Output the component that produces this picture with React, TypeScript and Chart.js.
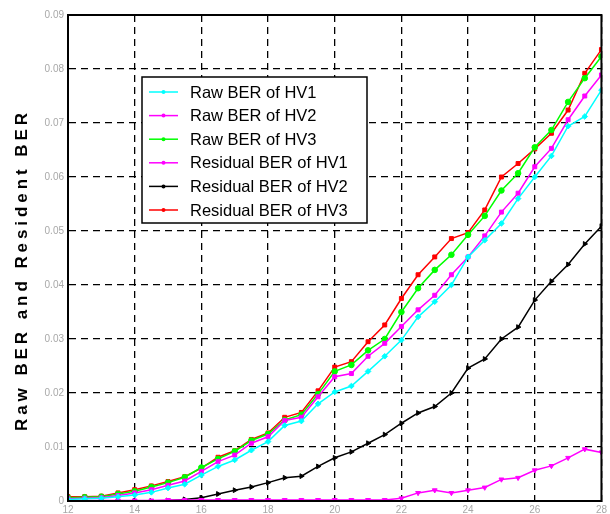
import React, { useEffect, useRef } from "react";
import { Chart, registerables } from "chart.js";

Chart.register(...registerables);

const snrValues = [12, 12.5, 13, 13.5, 14, 14.5, 15, 15.5, 16, 16.5, 17, 17.5, 18, 18.5, 19, 19.5, 20, 20.5, 21, 21.5, 22, 22.5, 23, 23.5, 24, 24.5, 25, 25.5, 26, 26.5, 27, 27.5, 28];

const rawHV1 = [0.0003, 0.0004, 0.0005, 0.0008, 0.0011, 0.0016, 0.0024, 0.0031, 0.0048, 0.0064, 0.0076, 0.0094, 0.011, 0.014, 0.0148, 0.018, 0.0202, 0.0213, 0.024, 0.0268, 0.0298, 0.0341, 0.0369, 0.04, 0.0452, 0.0483, 0.0514, 0.056, 0.06, 0.0639, 0.0694, 0.0712, 0.0761];
const rawHV2 = [0.0004, 0.0005, 0.0006, 0.001, 0.0015, 0.0021, 0.0029, 0.0037, 0.0055, 0.0073, 0.0085, 0.0107, 0.0119, 0.0149, 0.0155, 0.0193, 0.023, 0.0236, 0.0268, 0.0292, 0.0323, 0.0354, 0.0381, 0.0419, 0.0452, 0.0491, 0.0535, 0.057, 0.0619, 0.0653, 0.0706, 0.075, 0.0789];
const rawHV3 = [0.0006, 0.0007, 0.0008, 0.0013, 0.0018, 0.0026, 0.0034, 0.0044, 0.0062, 0.0078, 0.0092, 0.0112, 0.0124, 0.015, 0.016, 0.0198, 0.024, 0.0252, 0.0279, 0.03, 0.035, 0.0394, 0.0428, 0.0456, 0.0493, 0.0528, 0.0575, 0.0607, 0.0655, 0.0687, 0.0739, 0.0783, 0.0823];
const residualHV1 = [0.0001, 0.0001, 0.0001, 0.0001, 0.0001, 0.0001, 0.0002, 0.0002, 0.0002, 0.0002, 0.0002, 0.0002, 0.0002, 0.0002, 0.0002, 0.0002, 0.0002, 0.0002, 0.0002, 0.0002, 0.0005, 0.0015, 0.002, 0.0015, 0.002, 0.0025, 0.004, 0.0043, 0.0057, 0.0065, 0.008, 0.0096, 0.009];
const residualHV2 = [0, 0, 0, 0, 0, 0, 0.0001, 0.0003, 0.0006, 0.0013, 0.002, 0.0026, 0.0034, 0.0043, 0.0046, 0.0064, 0.008, 0.0091, 0.0107, 0.0123, 0.0144, 0.0163, 0.0175, 0.02, 0.0246, 0.0263, 0.03, 0.0322, 0.0372, 0.0407, 0.0438, 0.0476, 0.0509];
const residualHV3 = [0.0008, 0.0008, 0.0009, 0.0015, 0.0021, 0.0028, 0.0036, 0.0045, 0.0061, 0.0081, 0.0093, 0.0114, 0.0126, 0.0155, 0.0164, 0.0204, 0.0248, 0.0258, 0.0295, 0.0326, 0.0375, 0.0419, 0.0452, 0.0486, 0.0497, 0.0539, 0.06, 0.0625, 0.0652, 0.0681, 0.0724, 0.0792, 0.0836];

const seriesLabels = ["Raw BER of HV1", "Raw BER of HV2", "Raw BER of HV3", "Residual BER of HV1", "Residual BER of HV2", "Residual BER of HV3"];
const seriesValues = [rawHV1, rawHV2, rawHV3, residualHV1, residualHV2, residualHV3];
const seriesColors = ["#00ffff", "#ff00ff", "#00ff00", "#ff00ff", "#000000", "#ff0000"];
const seriesPoints = ["rectRot", "rect", "circle", "triangle", "triangle", "rect"];
const seriesRotation = [0, 0, 0, 180, 90, 0];

const xTicks = [12, 14, 16, 18, 20, 22, 24, 26, 28];
const yTickMax = 0.09;
const yAxisTitle = "Raw BER and Resident BER";

const framePlugin = {
  id: "frameAndLegend",
  afterDraw(chart: any) {
    const ctx = chart.ctx;
    const a = chart.chartArea;
    ctx.save();
    ctx.strokeStyle = "#000";
    ctx.lineWidth = 2;
    ctx.setLineDash([]);
    ctx.strokeRect(a.left, a.top, a.right - a.left, a.bottom - a.top);

    ctx.save();
    ctx.translate(22.5, 272);
    ctx.rotate(-Math.PI / 2);
    ctx.font = "bold 17px 'Liberation Sans', Arial, sans-serif";
    const w0 = ctx.measureText(yAxisTitle).width;
    const spacing = Math.max(0, (318 - w0) / (yAxisTitle.length - 1));
    (ctx as any).letterSpacing = spacing.toFixed(2) + "px";
    ctx.fillStyle = "#000";
    ctx.textAlign = "center";
    ctx.textBaseline = "middle";
    ctx.fillText(yAxisTitle, spacing / 2, 0);
    ctx.restore();

    const bx = 142, by = 77, bw = 225, bh = 146;
    ctx.fillStyle = "#fff";
    ctx.fillRect(bx, by, bw, bh);
    ctx.strokeStyle = "#000";
    ctx.lineWidth = 1.5;
    ctx.strokeRect(bx, by, bw, bh);
    ctx.font = "16.5px 'Liberation Sans', Arial, sans-serif";
    ctx.textBaseline = "middle";
    ctx.textAlign = "left";
    chart.data.datasets.forEach((ds: any, i: number) => {
      const y = 92 + i * 23.6;
      ctx.strokeStyle = ds.borderColor;
      ctx.lineWidth = 1.5;
      ctx.beginPath();
      ctx.moveTo(149, y);
      ctx.lineTo(178, y);
      ctx.stroke();
      ctx.fillStyle = ds.borderColor;
      ctx.beginPath();
      ctx.arc(163.5, y, 2, 0, Math.PI * 2);
      ctx.fill();
      ctx.fillStyle = "#000";
      ctx.fillText(ds.label, 190, y + 1);
    });
    ctx.restore();
  },
};

export default function App() {
  const ref = useRef<HTMLCanvasElement | null>(null);
  useEffect(() => {
    if (!ref.current) return;
    const chart = new Chart(ref.current, {
      type: "line",
      data: {
        datasets: seriesLabels.map((label, i) => ({
          label,
          data: snrValues.map((x, j) => ({ x, y: seriesValues[i][j] })),
          borderColor: seriesColors[i],
          backgroundColor: seriesColors[i],
          borderWidth: 1.5,
          pointStyle: seriesPoints[i] as any,
          rotation: seriesRotation[i],
          pointRadius: 2.8,
          pointBorderWidth: 1,
          fill: false,
          tension: 0,
        })),
      },
      options: {
        animation: false,
        responsive: false,
        maintainAspectRatio: false,
        layout: { padding: { left: 0, top: 15, right: 3, bottom: 0 } },
        plugins: { legend: { display: false }, tooltip: { enabled: false } },
        scales: {
          x: {
            type: "linear",
            min: 12,
            max: 28,
            afterBuildTicks: (s: any) => {
              s.ticks = xTicks.map((v) => ({ value: v }));
            },
            afterFit: (s: any) => {
              s.height = 13;
            },
            ticks: {
              color: "#a8a8a8",
              font: { size: 10, family: "'Liberation Sans', Arial, sans-serif" },
              padding: 3,
              maxRotation: 0,
              callback: (v: any) => String(v),
            },
            grid: { color: "#000", lineWidth: 1.3, drawTicks: false },
            border: { display: true, color: "#000", width: 2, dash: [7, 5] },
          },
          y: {
            type: "linear",
            min: 0,
            max: yTickMax,
            ticks: {
              stepSize: 0.01,
              color: "#a8a8a8",
              font: { size: 10, family: "'Liberation Sans', Arial, sans-serif" },
              padding: 4,
              callback: (v: any) => (Math.abs(v) < 1e-9 ? "0" : Number(v).toFixed(2)),
            },
            afterFit: (s: any) => {
              s.width = 68;
            },
            grid: { color: "#000", lineWidth: 1.3, drawTicks: false },
            border: { display: true, color: "#000", width: 2, dash: [7, 5] },
          },
        },
      },
      plugins: [framePlugin],
    });
    return () => chart.destroy();
  }, []);
  return (
    <div style={{ position: "fixed", left: 0, top: 0, width: 610, height: 514, background: "#fff" }}>
      <canvas ref={ref} width={610} height={514} style={{ width: 610, height: 514 }} />
    </div>
  );
}
